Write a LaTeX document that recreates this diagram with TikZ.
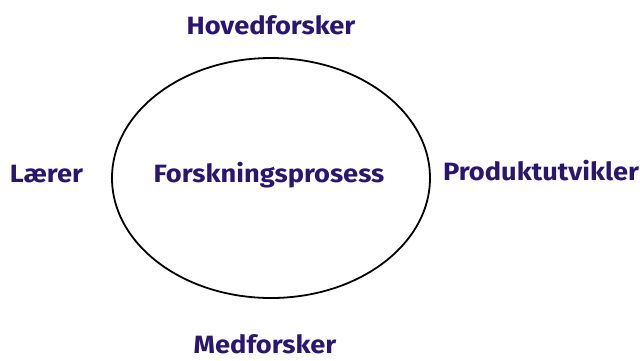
\documentclass[tikz,border=0pt]{standalone}
\usepackage{fontspec}
\setmainfont{Fira Sans}
\usetikzlibrary{shapes.geometric}
\definecolor{lblblue}{RGB}{42,22,110}
\newcommand{\widetxt}[1]{\scalebox{1.09}[1]{#1}}
\tikzset{
  lbl/.style={anchor=base, inner sep=0pt, text depth=0pt, text=lblblue, font=\fontsize{25}{30}\selectfont\bfseries},
  ring/.style={draw=black, line width=1.8pt, ellipse, minimum width=318pt, minimum height=240pt, inner sep=0pt}
}
\begin{document}
\begin{tikzpicture}[x=1pt,y=-1pt]
\useasboundingbox (0,0) rectangle (640,360);
\node[ring] (proc) at (271,178) {};
\node[lbl] (center) at (269,182) {\widetxt{Forskningsprosess}};
\node[lbl] (top) at (271,34) {\widetxt{Hovedforsker}};
\node[lbl] (left) at (46.5,182) {\widetxt{Lærer}};
\node[lbl] (right) at (541,180) {\widetxt{Produktutvikler}};
\node[lbl] (bottom) at (265,353.5) {\widetxt{Medforsker}};
\end{tikzpicture}
\end{document}
